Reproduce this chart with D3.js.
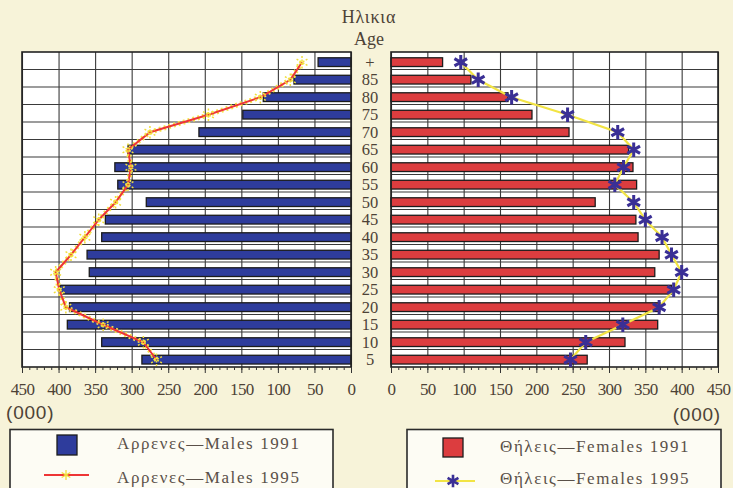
<!DOCTYPE html>
<html><head><meta charset="utf-8">
<script src="https://cdn.jsdelivr.net/npm/d3@7"></script>
<style>
html,body{margin:0;padding:0;background:#f7f3d9;}
svg{display:block;}
svg text{font-family:"Times New Roman","Liberation Serif","DejaVu Serif","Noto Serif",serif;}
svg text.sans{font-family:"Liberation Sans","Arial",sans-serif;}
</style></head>
<body><svg id="c" width="733" height="488"></svg>
<script>
// ---- data ----
const ages = ["+","85","80","75","70","65","60","55","50","45","40","35","30","25","20","15","10","5"];
const males1991   = [45, 78, 120, 148, 208, 305, 323, 319, 280, 336, 341, 361, 358, 398, 385, 388, 341, 286];
const males1995   = [67, 83, 124, 195, 275, 305, 301, 305, 322, 345, 364, 383, 404, 399, 390, 339, 284, 266];
const females1991 = [71, 110, 161, 194, 245, 327, 333, 338, 281, 337, 340, 369, 363, 386, 370, 367, 322, 270];
const females1995 = [96, 120, 166, 243, 312, 334, 320, 308, 334, 350, 373, 386, 400, 389, 369, 319, 268, 247];
const tickValues = [0,50,100,150,200,250,300,350,400,450];
const minorTicks = d3.range(0, 451, 10);
const legendLeft = ["Αρρενες—Males 1991", "Αρρενες—Males 1995"];
const legendRight = ["Θήλεις—Females 1991", "Θήλεις—Females 1995"];

const svg = d3.select("#c");
const txt = "#4d4236";
const grid = "#3a3a3a";

const xL = d3.scaleLinear().domain([450,0]).range([22,351]);
const xR = d3.scaleLinear().domain([0,450]).range([391,718]);
const y = d3.scaleBand().domain(ages).range([52,367]);
const bw = y.bandwidth();
const barH = bw*0.5, barOff = bw*0.33;

function panel(x, data, color){
  const g = svg.append("g");
  const [x0,x1] = [Math.min(...x.range()), Math.max(...x.range())];
  g.append("rect").attr("x",x0).attr("y",52).attr("width",x1-x0).attr("height",315).attr("fill","#fff");
  g.append("g").attr("transform","translate(0,367)")
    .call(d3.axisBottom(x).tickValues(tickValues).tickSize(-315).tickFormat(""))
    .call(s=>{s.select(".domain").remove(); s.selectAll("line").attr("stroke",grid).attr("stroke-width",1.1);});
  g.selectAll(".hg").data(ages.slice(1)).join("line")
    .attr("x1",x0).attr("x2",x1).attr("y1",d=>y(d)).attr("y2",d=>y(d))
    .attr("stroke",grid).attr("stroke-width",1.1);
  g.selectAll(".bar").data(ages).join("rect")
    .attr("x",(d,i)=>Math.min(x(0),x(data[i])))
    .attr("width",(d,i)=>Math.abs(x(data[i])-x(0)))
    .attr("y",d=>y(d)+barOff).attr("height",barH)
    .attr("fill",color).attr("stroke","#1c1c1c").attr("stroke-width",1.3);
  g.append("rect").attr("x",x0).attr("y",52).attr("width",x1-x0).attr("height",315)
    .attr("fill","none").attr("stroke","#222").attr("stroke-width",1.6);
  g.append("g").attr("transform","translate(0,367)")
    .call(d3.axisBottom(x).tickValues(minorTicks).tickSize(3).tickFormat(""))
    .call(s=>{s.select(".domain").remove(); s.selectAll("line").attr("stroke","#333");});
  g.append("g").attr("transform","translate(0,367)")
    .call(d3.axisBottom(x).tickValues(tickValues).tickSize(6).tickPadding(10))
    .call(s=>{s.select(".domain").remove(); s.selectAll("line").attr("stroke","#333");
      s.attr("font-family",null).attr("font-size",null);
      s.selectAll("text").attr("fill",txt).attr("font-size",17).attr("letter-spacing",-0.6);});
  return g;
}
panel(xL, males1991, "#2e3c9c");
panel(xR, females1991, "#dc3d3f");

const cy = (d)=> y(d)+bw/2+1.5;

// males 1995 line
const lineL = d3.line().x(d=>xL(d)).y((d,i)=>cy(ages[i]));
svg.append("path").attr("d",lineL(males1995)).attr("fill","none")
  .attr("stroke","#f4e64a").attr("stroke-width",5).attr("stroke-dasharray","2,3");
svg.append("path").attr("d",lineL(males1995)).attr("fill","none")
  .attr("stroke","#ee3535").attr("stroke-width",2);
const mSym = d3.symbol().type(d3.symbolAsterisk).size(110);
svg.selectAll(".mm").data(males1995).join("path")
  .attr("transform",(d,i)=>`translate(${xL(d)},${cy(ages[i])})`)
  .attr("d",mSym).attr("fill","none").attr("stroke","#f1de3a").attr("stroke-width",1.5)
  .attr("stroke-dasharray","2,1.5");

// females 1995 line
const lineR = d3.line().x(d=>xR(d)).y((d,i)=>cy(ages[i]));
svg.append("path").attr("d",lineR(females1995)).attr("fill","none")
  .attr("stroke","#f2e444").attr("stroke-width",2.2);
const fSym = d3.symbol().type(d3.symbolAsterisk).size(150);
svg.selectAll(".fm").data(females1995).join("path")
  .attr("transform",(d,i)=>`translate(${xR(d)},${cy(ages[i])})`)
  .attr("d",fSym).attr("fill","none").attr("stroke","#3a2f95").attr("stroke-width",3);

// age labels
svg.selectAll(".al").data(ages).join("text")
  .attr("x",370).attr("y",d=>y(d)+bw/2+1).attr("dy","0.35em")
  .attr("text-anchor","middle").attr("font-size",16.5).attr("fill",txt).text(d=>d);
svg.append("text").attr("x",369).attr("y",23).attr("text-anchor","middle")
  .attr("font-size",18).attr("letter-spacing",0.8).attr("fill",txt).text("Ηλικια");
svg.append("text").attr("x",369).attr("y",45).attr("text-anchor","middle")
  .attr("font-size",18).attr("fill",txt).text("Age");

// units
svg.append("text").attr("class","sans").attr("x",6).attr("y",419).attr("font-size",19).attr("fill",txt)
  .attr("letter-spacing",0.8).text("(000)");
svg.append("text").attr("class","sans").attr("x",721).attr("y",421).attr("text-anchor","end").attr("font-size",19).attr("fill",txt)
  .attr("letter-spacing",0.8).text("(000)");

// legends
function legendBox(x0, w){
  const g = svg.append("g");
  g.append("rect").attr("x",x0).attr("y",429.5).attr("width",w).attr("height",80)
    .attr("fill","#fdfcf4").attr("stroke","#2a2a2a").attr("stroke-width",1.6);
  return g;
}
const gl = legendBox(10, 323);
gl.append("rect").attr("x",57).attr("y",435).attr("width",20).attr("height",20)
  .attr("fill","#2e3c9c").attr("stroke","#1c1c1c").attr("stroke-width",1.3);
gl.append("line").attr("x1",44).attr("x2",89).attr("y1",475).attr("y2",475)
  .attr("stroke","#ee3535").attr("stroke-width",2);
gl.append("path").attr("transform","translate(66,475)").attr("d",d3.symbol().type(d3.symbolAsterisk).size(70))
  .attr("fill","none").attr("stroke","#f1de3a").attr("stroke-width",1.3);
gl.selectAll("text").data(legendLeft).join("text")
  .attr("x",117).attr("y",(d,i)=>449+i*34).attr("font-size",17).attr("letter-spacing",1.6)
  .attr("fill","#5a5048").text(d=>d);

const gr = legendBox(407, 314);
gr.append("rect").attr("x",443).attr("y",438).attr("width",20).attr("height",19)
  .attr("fill","#dc3d3f").attr("stroke","#1c1c1c").attr("stroke-width",1.3);
gr.append("line").attr("x1",435).attr("x2",475).attr("y1",481).attr("y2",481)
  .attr("stroke","#f2e444").attr("stroke-width",2);
gr.append("path").attr("transform","translate(453,481)").attr("d",d3.symbol().type(d3.symbolAsterisk).size(110))
  .attr("fill","none").attr("stroke","#3a2f95").attr("stroke-width",2.6);
gr.selectAll("text").data(legendRight).join("text")
  .attr("x",500).attr("y",(d,i)=>452+i*32).attr("font-size",17).attr("letter-spacing",1.6)
  .attr("fill","#5a5048").text(d=>d);
</script></body></html>
